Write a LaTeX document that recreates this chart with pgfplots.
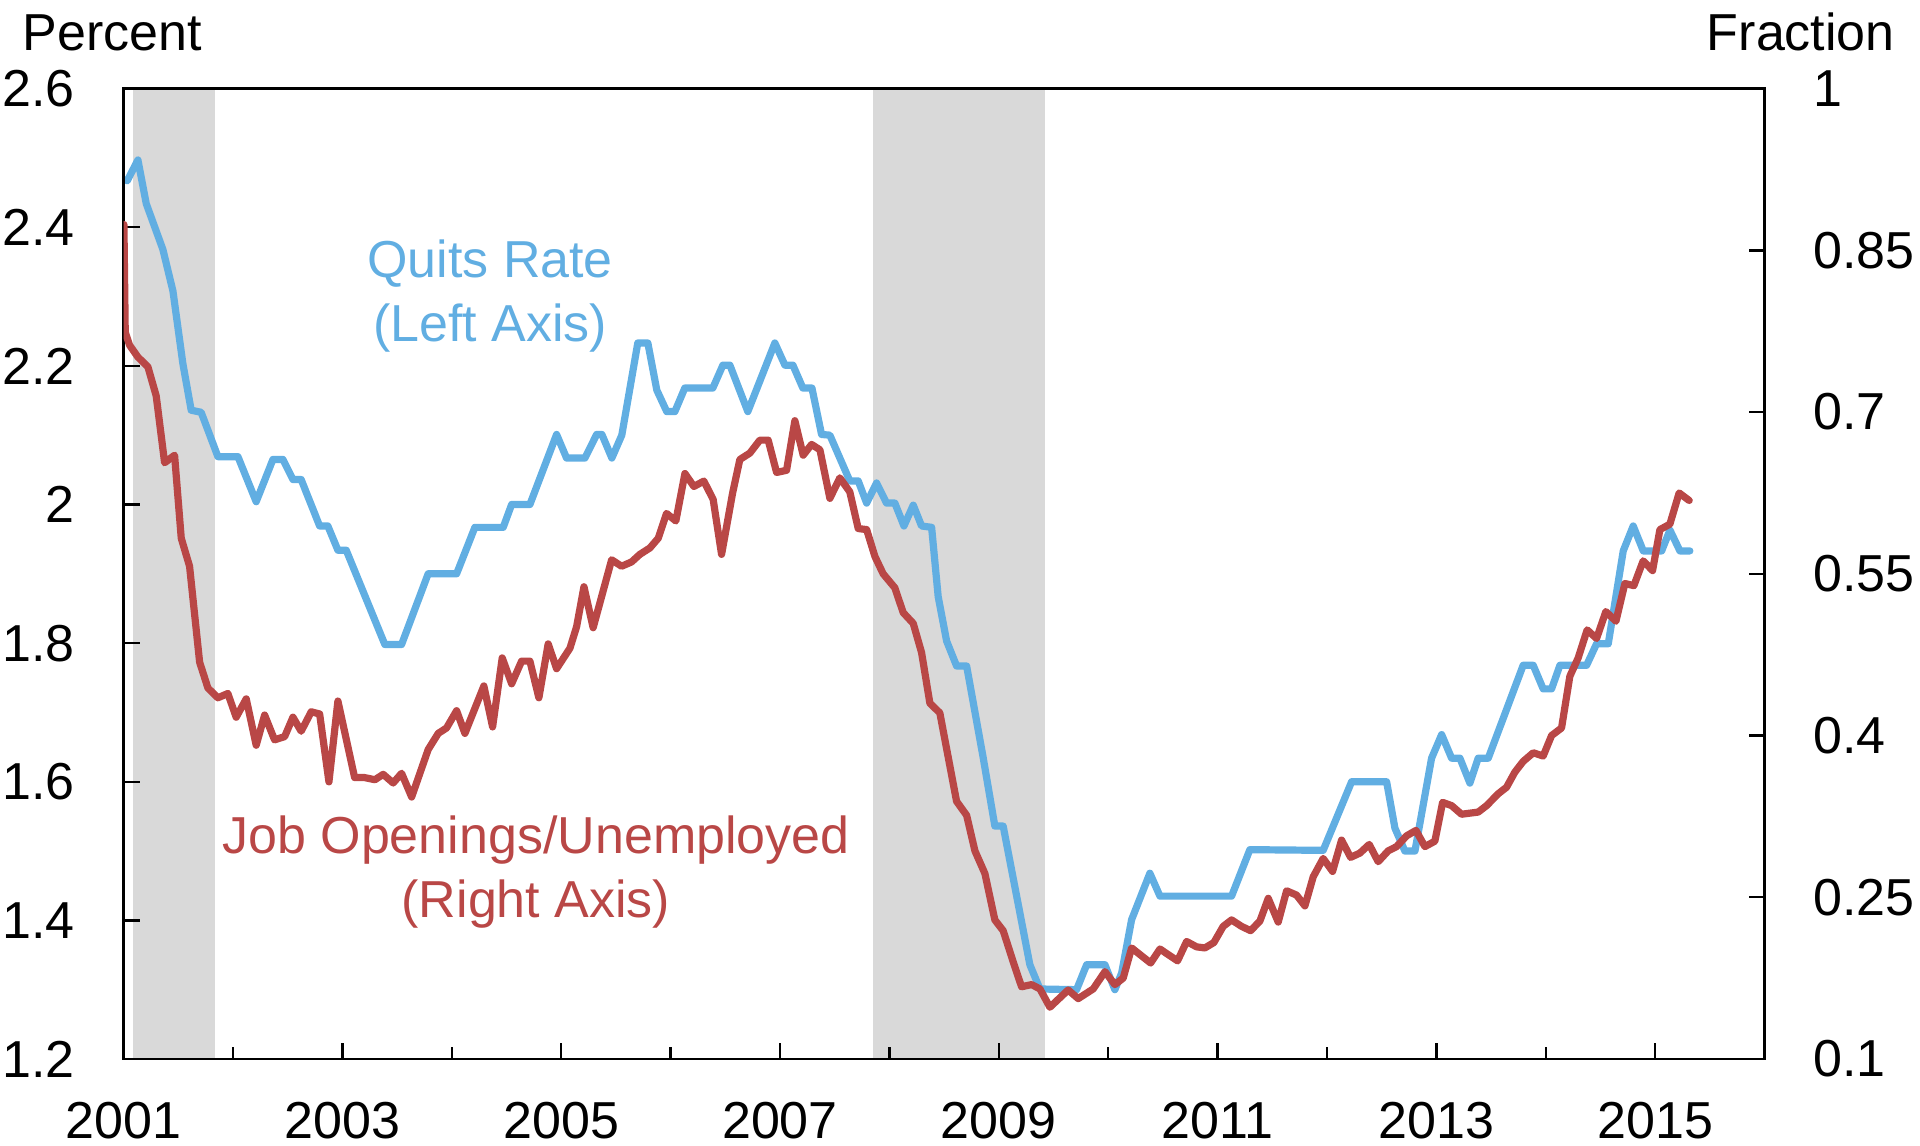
\documentclass[border=0pt]{standalone}
\usepackage{fontspec}
\setmainfont{Liberation Sans}
\usepackage{pgfplots}
\pgfplotsset{compat=1.18}

\definecolor{quits}{RGB}{97,174,226}
\definecolor{jobs}{RGB}{185,71,70}
\definecolor{recess}{RGB}{217,217,217}
\newcommand{\chartfont}{\fontsize{13}{16}\selectfont}

\pgfplotsset{
  common/.style={
    scale only axis, width=410.25pt, height=242.6pt,
    xmin=2001, xmax=2016,
    axis line style={line width=0.6pt},
    tick style={black, line width=0.6pt},
    major tick length=4pt, minor tick length=3pt,
    tick align=inside,
    /pgf/number format/assume math mode=true,
    tick label style={font=\chartfont, inner sep=0pt},
  },
  series/.style={line width=1.8pt, line join=round, line cap=round},
}

\begin{document}
\begin{tikzpicture}
\begin{axis}[common, axis on top,
  ymin=1.2, ymax=2.6,
  ytick={1.2,1.4,1.6,1.8,2,2.2,2.4,2.6},
  ytick pos=left, xtick pos=bottom,
  xtick={2001,2003,2005,2007,2009,2011,2013,2015},
  xticklabels={2001,2003,2005,2007,2009,2011,2013,2015},
  minor xtick={2002,2004,2006,2008,2010,2012,2014,2016},
  yticklabel style={anchor=east, xshift=-12pt},
  xticklabel style={anchor=north, yshift=-10.5pt},
]
% recessions
\addplot[fill=recess, draw=none] coordinates {(2001.085,2.6) (2001.832,2.6)} \closedcycle;
\addplot[fill=recess, draw=none] coordinates {(2007.846,2.6) (2009.421,2.6)} \closedcycle;

% quits rate, left axis
\addplot[quits, series] coordinates {
(2001.033,2.467) (2001.131,2.497) (2001.207,2.434) (2001.359,2.368) (2001.451,2.308)
(2001.542,2.203) (2001.618,2.136) (2001.709,2.133) (2001.862,2.069) (2002.045,2.069)
(2002.212,2.004) (2002.365,2.065) (2002.456,2.065) (2002.548,2.036) (2002.623,2.036)
(2002.792,1.969) (2002.867,1.969) (2002.959,1.934) (2003.035,1.934) (2003.388,1.798)
(2003.541,1.798) (2003.784,1.900) (2004.044,1.900) (2004.211,1.967) (2004.470,1.967)
(2004.547,2.000) (2004.714,2.000) (2004.958,2.101) (2005.049,2.067) (2005.217,2.067)
(2005.324,2.101) (2005.372,2.101) (2005.463,2.067) (2005.554,2.100) (2005.700,2.233)
(2005.792,2.233) (2005.874,2.165) (2005.965,2.134) (2006.039,2.134) (2006.130,2.168)
(2006.386,2.168) (2006.478,2.201) (2006.542,2.201) (2006.706,2.134) (2006.953,2.233)
(2007.045,2.201) (2007.118,2.201) (2007.209,2.168) (2007.292,2.168) (2007.380,2.101)
(2007.456,2.100) (2007.638,2.034) (2007.715,2.034) (2007.792,2.002) (2007.883,2.031)
(2007.974,2.002) (2008.050,2.002) (2008.133,1.969) (2008.218,1.999) (2008.294,1.969)
(2008.386,1.967) (2008.446,1.867) (2008.523,1.803) (2008.614,1.767) (2008.706,1.767)
(2008.857,1.635) (2008.964,1.536) (2009.040,1.536) (2009.284,1.336) (2009.376,1.301)
(2009.711,1.300) (2009.803,1.336) (2009.970,1.336) (2010.061,1.300) (2010.123,1.324)
(2010.214,1.401) (2010.381,1.468) (2010.473,1.435) (2011.128,1.435) (2011.295,1.502)
(2011.965,1.501) (2012.225,1.600) (2012.545,1.600) (2012.621,1.533) (2012.712,1.500)
(2012.804,1.500) (2012.956,1.634) (2013.048,1.668) (2013.139,1.634) (2013.215,1.634)
(2013.306,1.598) (2013.382,1.634) (2013.474,1.634) (2013.793,1.768) (2013.885,1.768)
(2013.976,1.734) (2014.053,1.734) (2014.129,1.768) (2014.373,1.768) (2014.464,1.799)
(2014.571,1.799) (2014.708,1.933) (2014.799,1.969) (2014.891,1.933) (2015.059,1.933)
(2015.135,1.963) (2015.226,1.933) (2015.317,1.933)
};

\node[quits, font=\chartfont, align=center] at (axis cs:2004.35,2.30) {Quits Rate\\(Left Axis)};
\node[jobs, font=\chartfont, align=center] at (axis cs:2004.77,1.469) {Job Openings/Unemployed\\(Right Axis)};
\end{axis}

\begin{axis}[common, hide x axis,
  ymin=0.1, ymax=1,
  ytick={0.1,0.25,0.4,0.55,0.7,0.85,1},
  ytick pos=right, yticklabel pos=right,
  yticklabel style={anchor=west, xshift=12pt},
]
% job openings / unemployed, right axis
\addplot[jobs, series] coordinates {
(2001.003,0.874) (2001.015,0.774) (2001.055,0.762) (2001.131,0.751) (2001.222,0.742)
(2001.298,0.715) (2001.375,0.653) (2001.466,0.660) (2001.527,0.583) (2001.603,0.557)
(2001.695,0.468) (2001.771,0.444) (2001.862,0.435) (2001.953,0.439) (2002.029,0.417)
(2002.121,0.434) (2002.212,0.391) (2002.289,0.419) (2002.380,0.396) (2002.472,0.399)
(2002.548,0.417) (2002.623,0.404) (2002.715,0.422) (2002.792,0.420) (2002.877,0.357)
(2002.959,0.432) (2003.112,0.361) (2003.203,0.361) (2003.297,0.359) (2003.373,0.364)
(2003.464,0.356) (2003.541,0.365) (2003.633,0.343) (2003.784,0.387) (2003.876,0.402)
(2003.952,0.407) (2004.044,0.423) (2004.120,0.402) (2004.293,0.446) (2004.373,0.408)
(2004.461,0.472) (2004.547,0.448) (2004.638,0.469) (2004.714,0.469) (2004.796,0.435)
(2004.881,0.485) (2004.958,0.462) (2005.080,0.481) (2005.141,0.501) (2005.208,0.538)
(2005.292,0.500) (2005.461,0.563) (2005.552,0.557) (2005.643,0.561) (2005.719,0.568)
(2005.811,0.574) (2005.887,0.583) (2005.963,0.606) (2006.048,0.599) (2006.131,0.643)
(2006.213,0.631) (2006.304,0.636) (2006.389,0.619) (2006.466,0.568) (2006.567,0.625)
(2006.633,0.656) (2006.725,0.662) (2006.816,0.674) (2006.892,0.674) (2006.969,0.644)
(2007.060,0.646) (2007.136,0.692) (2007.212,0.660) (2007.289,0.670) (2007.365,0.665)
(2007.456,0.620) (2007.547,0.639) (2007.638,0.626) (2007.715,0.592) (2007.792,0.591)
(2007.868,0.566) (2007.943,0.550) (2008.050,0.537) (2008.126,0.514) (2008.218,0.504)
(2008.294,0.477) (2008.370,0.430) (2008.461,0.421) (2008.614,0.339) (2008.706,0.326)
(2008.782,0.293) (2008.873,0.272) (2008.964,0.229) (2009.040,0.219) (2009.132,0.190)
(2009.208,0.167) (2009.300,0.169) (2009.376,0.165) (2009.467,0.148) (2009.634,0.164)
(2009.726,0.156) (2009.863,0.165) (2009.970,0.181) (2010.061,0.169) (2010.137,0.175)
(2010.214,0.203) (2010.388,0.189) (2010.473,0.202) (2010.634,0.191) (2010.717,0.209)
(2010.808,0.204) (2010.884,0.203) (2010.966,0.208) (2011.051,0.223) (2011.128,0.229)
(2011.219,0.223) (2011.302,0.219) (2011.387,0.228) (2011.463,0.249) (2011.554,0.227)
(2011.631,0.256) (2011.722,0.252) (2011.798,0.242) (2011.874,0.269) (2011.965,0.286)
(2012.051,0.274) (2012.133,0.303) (2012.216,0.287) (2012.301,0.291) (2012.386,0.299)
(2012.468,0.283) (2012.559,0.293) (2012.636,0.297) (2012.728,0.307) (2012.813,0.312)
(2012.895,0.297) (2012.986,0.302) (2013.057,0.338) (2013.139,0.335) (2013.230,0.327)
(2013.382,0.329) (2013.459,0.335) (2013.565,0.346) (2013.641,0.352) (2013.717,0.366)
(2013.793,0.376) (2013.885,0.384) (2013.976,0.381) (2014.053,0.400) (2014.144,0.407)
(2014.220,0.455) (2014.296,0.472) (2014.378,0.498) (2014.464,0.490) (2014.549,0.515)
(2014.641,0.506) (2014.723,0.541) (2014.805,0.539) (2014.890,0.562) (2014.976,0.553)
(2015.043,0.591) (2015.134,0.596) (2015.219,0.625) (2015.311,0.618)
};
\end{axis}

\node[font=\chartfont, anchor=base west, inner sep=0pt] at (-25.4pt,252.2pt) {Percent};
\node[font=\chartfont, anchor=base east, inner sep=0pt] at (443pt,252.2pt) {Fraction};

\pgfresetboundingbox
\useasboundingbox (-30.9pt,-21.75pt) rectangle (449.1pt,264.75pt);
\end{tikzpicture}
\end{document}
